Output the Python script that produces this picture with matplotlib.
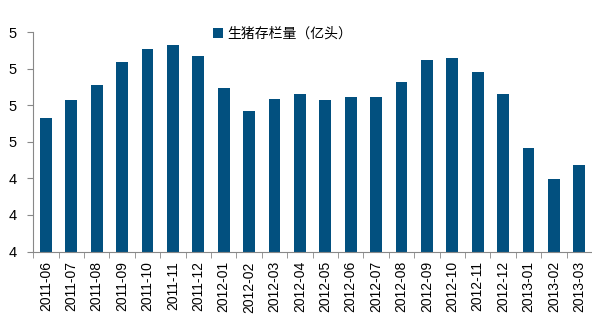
import numpy as np
import matplotlib.pyplot as plt

plt.rcParams['font.family'] = ['Liberation Sans', 'Noto Sans CJK SC', 'DejaVu Sans']

# 生猪存栏量（亿头）
months = ['2011-06', '2011-07', '2011-08', '2011-09', '2011-10', '2011-11',
          '2011-12', '2012-01', '2012-02', '2012-03', '2012-04', '2012-05',
          '2012-06', '2012-07', '2012-08', '2012-09', '2012-10', '2012-11',
          '2012-12', '2013-01', '2013-02', '2013-03']
stock = [4.565, 4.615, 4.656, 4.719, 4.754, 4.765,
         4.735, 4.648, 4.585, 4.617, 4.631, 4.615,
         4.623, 4.623, 4.664, 4.724, 4.730, 4.691,
         4.631, 4.483, 4.398, 4.437]
yticks = [4.2, 4.3, 4.4, 4.5, 4.6, 4.7, 4.8]
ylabels = ['4', '4', '4', '5', '5', '5', '5']

fig = plt.figure(figsize=(5.92, 3.26), dpi=100)
axw = 592 - 33.2
ax = fig.add_axes([33.2 / 592, 1 - 251.5 / 326, axw / 592, (251.5 - 32.3) / 326])

x = np.arange(len(months))
ax.bar(x, stock, width=0.47, color='#02507f', label='生猪存栏量（亿头）', zorder=2)

ax.set_ylim(4.2, 4.8)
ax.set_yticks(yticks)
ax.set_yticklabels(ylabels, fontsize=10.5)
ax.set_xlim(-0.5, len(months) - 0.5 - 2.8 / 25.52)
ax.set_xticks(x)
ax.set_xticklabels(months, rotation=90, fontsize=10)
ax.tick_params(axis='x', length=0, pad=7)
ax.set_xticks(np.arange(len(months) + 1) - 0.5, minor=True)
ax.tick_params(axis='x', which='minor', length=4, color='#888888', direction='out')
ax.tick_params(axis='y', length=4, color='#888888', direction='out', pad=8)

for s in ['top', 'right']:
    ax.spines[s].set_visible(False)
for s in ['left', 'bottom']:
    ax.spines[s].set_color('#888888')
    ax.spines[s].set_linewidth(0.8)

leg = ax.legend(loc='upper left', bbox_to_anchor=((207 - 33.2) / axw, 1.05),
                frameon=False, fontsize=10, handlelength=0.75, handleheight=0.75,
                handletextpad=0.3, borderaxespad=0)

fig.savefig('out.png', dpi=100)
